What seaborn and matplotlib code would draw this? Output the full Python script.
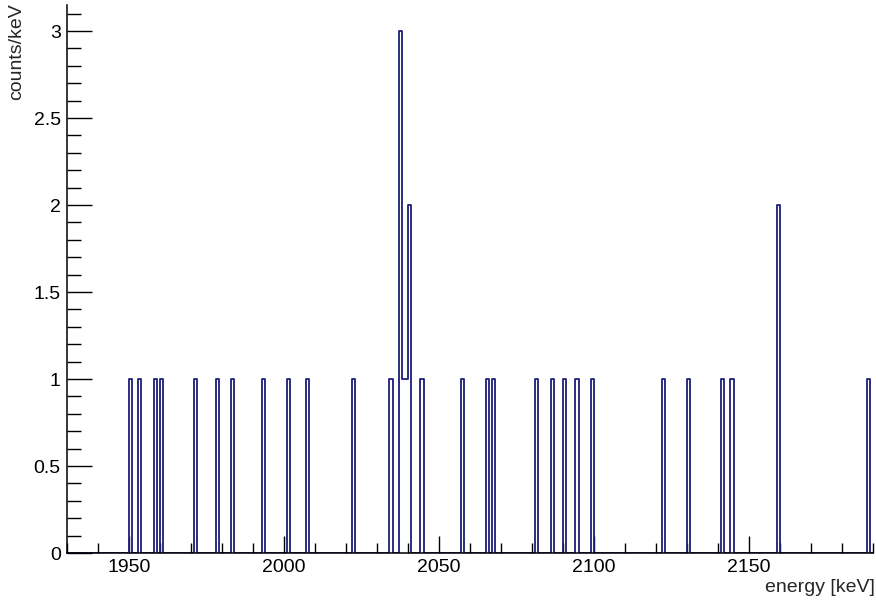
import numpy as np
import pandas as pd
import matplotlib
matplotlib.use("Agg")
import matplotlib.pyplot as plt
import seaborn as sns
from matplotlib.ticker import MultipleLocator, FixedLocator, FuncFormatter

# Event energies (lower edge of each 1 keV bin, keV) and counts per bin
energy_keV = [1950, 1953, 1958, 1960, 1971, 1978, 1983, 1993, 2001, 2007,
              2022, 2034, 2037, 2038, 2039, 2040, 2044, 2057, 2065, 2067,
              2081, 2086, 2090, 2094, 2099, 2122, 2130, 2141, 2144, 2159,
              2188]
counts = [1, 1, 1, 1, 1, 1, 1, 1, 1, 1,
          1, 1, 3, 1, 1, 2, 1, 1, 1, 1,
          1, 1, 1, 1, 1, 1, 1, 1, 1, 2,
          1]

x_min, x_max = 1930, 2190
bin_width = 1
x_major = [1950, 2000, 2050, 2100, 2150]

df = pd.DataFrame({"energy": np.asarray(energy_keV, dtype=float) + bin_width / 2,
                   "counts": np.asarray(counts, dtype=float)})
bin_edges = [float(e) for e in range(x_min, x_max + bin_width, bin_width)]

sns.set_style("ticks")
plt.rcParams["font.family"] = ["Liberation Sans", "DejaVu Sans"]
FS = 14

fig = plt.figure(figsize=(8.76, 6.06), dpi=100)
ax = fig.add_axes([67 / 876, 53 / 606, 806 / 876, 548 / 606])

sns.histplot(data=df, x="energy", weights="counts", bins=bin_edges,
             element="step", fill=False, color="#1e1e78", linewidth=1.3,
             ax=ax)

ax.set_xlim(x_min, x_max)
ax.set_ylim(0, 3.15)

for side in ("top", "right"):
    ax.spines[side].set_visible(False)
for side in ("left", "bottom"):
    ax.spines[side].set_color("black")
    ax.spines[side].set_linewidth(1.1)
    ax.spines[side].set_zorder(5)

ax.xaxis.set_major_locator(FixedLocator(x_major))
ax.xaxis.set_minor_locator(MultipleLocator(10))
ax.yaxis.set_major_locator(MultipleLocator(0.5))
ax.yaxis.set_minor_locator(MultipleLocator(0.1))
ax.yaxis.set_major_formatter(FuncFormatter(lambda v, p: f"{v:g}"))

ax.tick_params(axis="x", which="major", direction="in", length=12.5,
               width=1.0, labelsize=FS, pad=4.5, colors="black")
ax.tick_params(axis="x", which="minor", direction="in", length=7,
               width=1.0, colors="black")
ax.tick_params(axis="y", which="major", direction="in", length=18,
               width=1.0, labelsize=FS, pad=4.5, colors="black")
ax.tick_params(axis="y", which="minor", direction="in", length=10,
               width=1.0, colors="black")

ax.set_xlabel("energy [keV]", fontsize=FS, ha="right", va="top")
ax.xaxis.set_label_coords(1.002, -0.047)
ax.set_ylabel("counts/keV", fontsize=FS, ha="right", va="bottom")
ax.yaxis.set_label_coords(-0.052, 1.004)

ax.grid(False)
fig.savefig("out.png", dpi=100, facecolor="white")
